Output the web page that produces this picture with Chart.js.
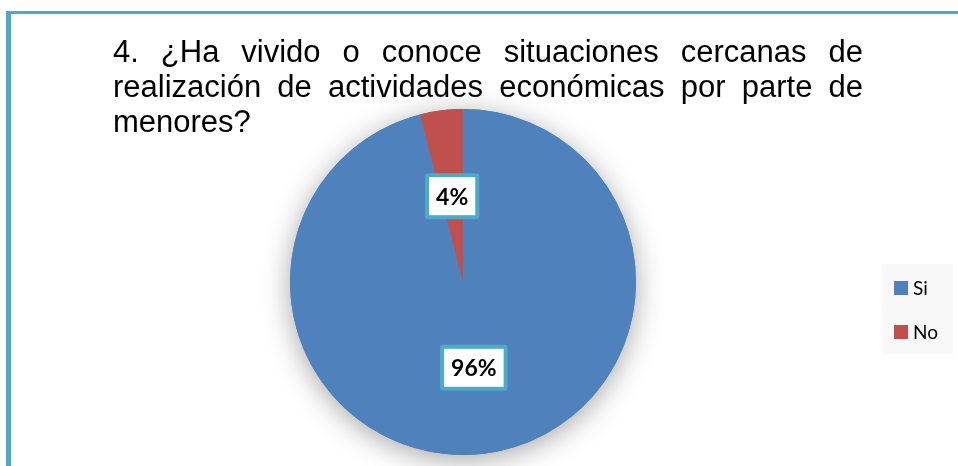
<!DOCTYPE html>
<html>
<head>
    <meta charset="UTF-8">
    <title>Actividades económicas por parte de menores</title>
    <script src="https://cdn.jsdelivr.net/npm/chart.js"></script>
    <style>
        html, body {
            margin: 0;
            padding: 0;
            background: #ffffff;
            overflow: hidden;
        }
        .page {
            position: relative;
            width: 958px;
            height: 466px;
        }
        .frame {
            position: absolute;
            left: 6px;
            top: 11px;
            width: 1000px;
            height: 500px;
            border-left: 5px solid #4BACC6;
            border-top: 3px solid #4BACC6;
        }
        .chart-box {
            position: absolute;
            left: 0;
            top: 0;
            width: 958px;
            height: 466px;
        }
        .titulo {
            position: absolute;
            left: 113px;
            top: 34px;
            width: 750px;
            font-family: "Liberation Sans", Arial, sans-serif;
            font-size: 31px;
            line-height: 35px;
            color: #000;
        }
        .titulo div {
            text-align: justify;
            text-align-last: justify;
            white-space: nowrap;
        }
        .titulo div.ultima {
            text-align-last: left;
        }
    </style>
</head>
<body>
    <div class="page">
        <div class="frame"></div>
        <div class="chart-box">
            <canvas id="pieChart" width="958" height="466"></canvas>
        </div>
        <div class="titulo" id="titulo"></div>
    </div>

    <script>
        // datos del gráfico
        const categorias = ['Si', 'No'];
        const valores = [96, 4];
        const colores = ['#4F81BD', '#C0504D'];
        const lineasTitulo = [
            '4. ¿Ha vivido o conoce situaciones cercanas de',
            'realización de actividades económicas por parte de',
            'menores?'
        ];

        // título justificado (texto real)
        const tituloEl = document.getElementById('titulo');
        lineasTitulo.forEach((t, i) => {
            const d = document.createElement('div');
            d.textContent = t;
            if (i === lineasTitulo.length - 1) d.className = 'ultima';
            tituloEl.appendChild(d);
        });

        // sombra suave detrás del pastel
        const sombraPlugin = {
            id: 'sombra',
            beforeDatasetsDraw(chart) {
                const arc = chart.getDatasetMeta(0).data[0];
                if (!arc) return;
                const ctx = chart.ctx;
                ctx.save();
                ctx.shadowColor = 'rgba(0,0,0,0.35)';
                ctx.shadowBlur = 28;
                ctx.shadowOffsetY = 5;
                ctx.fillStyle = '#4F81BD';
                ctx.beginPath();
                ctx.arc(arc.x, arc.y, arc.outerRadius, 0, Math.PI * 2);
                ctx.fill();
                ctx.restore();
            }
        };

        // etiquetas de porcentaje en recuadros
        const etiquetasPlugin = {
            id: 'etiquetas',
            afterDatasetsDraw(chart) {
                const ctx = chart.ctx;
                const datos = chart.data.datasets[0].data;
                const total = datos.reduce((a, b) => a + b, 0);
                chart.getDatasetMeta(0).data.forEach((arc, i) => {
                    const pos = arc.tooltipPosition();
                    const texto = Math.round(datos[i] / total * 100) + '%';
                    ctx.save();
                    ctx.font = 'bold 23px Lato, "Open Sans", sans-serif';
                    const w = ctx.measureText(texto).width + 22;
                    const h = 46;
                    const x = pos.x - w / 2;
                    const y = pos.y - h / 2;
                    ctx.fillStyle = '#4BACC6';
                    ctx.beginPath();
                    ctx.roundRect(x, y, w, h, 3);
                    ctx.fill();
                    ctx.fillStyle = '#ffffff';
                    ctx.fillRect(x + 4, y + 4, w - 8, h - 8);
                    ctx.fillStyle = '#000000';
                    ctx.textAlign = 'center';
                    ctx.textBaseline = 'middle';
                    ctx.fillText(texto, pos.x, pos.y + 1);
                    ctx.restore();
                });
            }
        };

        // leyenda a la derecha
        const leyendaPlugin = {
            id: 'leyendaDerecha',
            afterDraw(chart) {
                const ctx = chart.ctx;
                const ds = chart.data.datasets[0];
                ctx.save();
                ctx.fillStyle = '#F8F8F8';
                ctx.fillRect(882, 264, 71, 90);
                ctx.font = '19px Lato, "Open Sans", sans-serif';
                ctx.textBaseline = 'middle';
                chart.data.labels.forEach((lab, i) => {
                    const cy = 288 + i * 44;
                    ctx.fillStyle = ds.backgroundColor[i];
                    ctx.fillRect(894, cy - 7, 14, 14);
                    ctx.fillStyle = '#000000';
                    ctx.fillText(lab, 913, cy + 1);
                });
                ctx.restore();
            }
        };

        const ctx = document.getElementById('pieChart').getContext('2d');
        const pieChart = new Chart(ctx, {
            type: 'pie',
            data: {
                labels: categorias,
                datasets: [{
                    data: valores,
                    backgroundColor: colores,
                    borderWidth: 0
                }]
            },
            options: {
                responsive: false,
                animation: false,
                layout: {
                    padding: { top: 109, bottom: 11, left: 289, right: 321 }
                },
                plugins: {
                    legend: { display: false },
                    tooltip: { enabled: false },
                    title: { display: false }
                }
            },
            plugins: [sombraPlugin, etiquetasPlugin, leyendaPlugin]
        });
    </script>
</body>
</html>
